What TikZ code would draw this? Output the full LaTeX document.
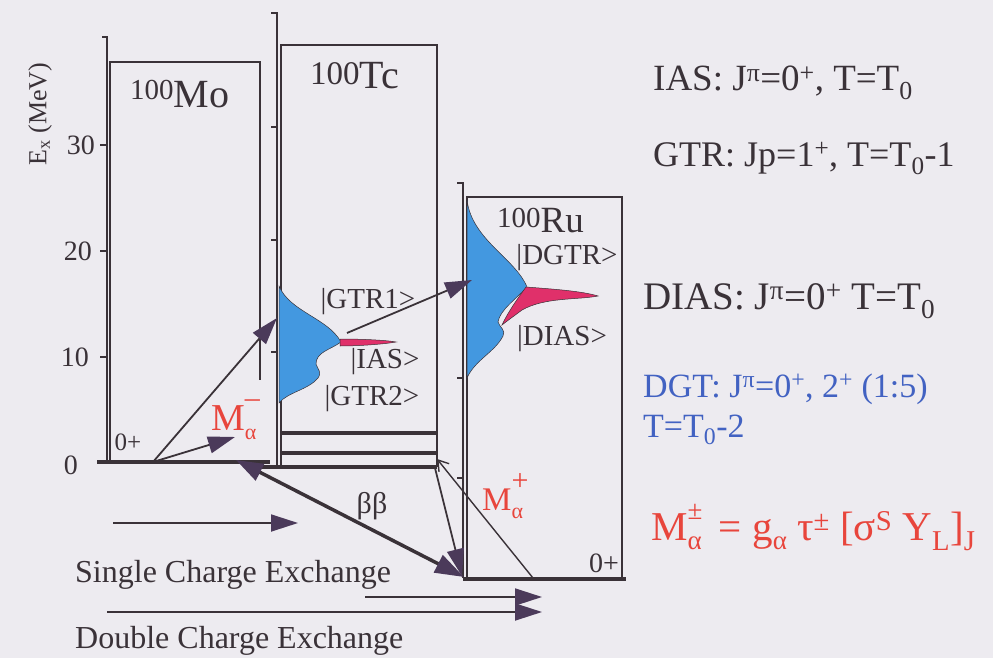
\documentclass[tikz,border=0pt]{standalone}
\usepackage{fontspec}
\setmainfont{Liberation Serif}
\usetikzlibrary{arrows.meta,positioning}
\definecolor{bgpaper}{HTML}{EDEBF0}
\definecolor{inkline}{HTML}{3A3238}
\definecolor{headpurple}{HTML}{4B3A5A}
\definecolor{gtrblue}{HTML}{4398E0}
\definecolor{iasred}{HTML}{E0306A}
\definecolor{mred}{HTML}{E8453C}
\definecolor{dgtblue}{HTML}{4262C2}
\newcommand{\fsz}[1]{\fontsize{#1}{#1}\selectfont}
\newcommand{\mlab}[1]{M\rlap{\raisebox{0.6em}{\fsz{30}#1}}\raisebox{-0.25em}{\fsz{22}α}}

\begin{document}
\begin{tikzpicture}[x=1pt,y=-1pt,
  axisline/.style={inkline,line width=1.3pt},
  boxline/.style={inkline,line width=1.1pt},
  level/.style={inkline,line width=3.5pt},
  peak/.style={draw=inkline,line width=0.5pt},
  arr/.style={inkline,line width=1.8pt,-{Triangle[length=27pt,width=17pt,color=headpurple]}},
  thinarr/.style={inkline,line width=1.4pt,-{Straight Barb[length=10pt,width=13pt]}},
  bbarr/.style={inkline,line width=3.5pt,{Triangle[length=27pt,width=18pt,color=headpurple]}-{Triangle[length=29pt,width=19pt,color=headpurple]}},
  txt/.style={font=\fsz{32},inner sep=0pt,text=inkline},
  state/.style={font=\fsz{29},inner sep=0pt,text=inkline},
  nucl/.style={inner sep=0pt,text=inkline},
  tick/.style={font=\fsz{28},inner sep=0pt,text=inkline,anchor=east}]

  % paper
  \fill[bgpaper] (0,0) rectangle (993,658);

  % 100Mo panel
  \draw[axisline] (102,37) -- (107,37) -- (107,462);
  \foreach \y in {145,251,357} \draw[axisline] (100,\y) -- (107,\y);
  \draw[boxline] (110,462) -- (110,62) -- (260,62) -- (260,380);
  \node[tick] (t30) at (95,145) {30};
  \node[tick] (t20) at (92,251) {20};
  \node[tick] (t10) at (89,357) {10};
  \node[tick] (t0) at (78,465) {0};
  \node[txt,font=\fsz{26},rotate=90] (exlab) at (40,114) {E\textsubscript{x} (MeV)};
  \node[nucl,anchor=base west] (mo) at (130,108)
    {\fsz{29}\raisebox{8pt}{100}\fsz{40}Mo};

  % 100Tc panel
  \draw[axisline] (271,13) -- (277,13) -- (277,467);
  \foreach \y in {127,240,352} \draw[axisline] (271,\y) -- (277,\y);
  \draw[boxline] (281,467) -- (281,45) -- (437,45) -- (437,467);
  \node[nucl,anchor=base west] (tc) at (310,89)
    {\fsz{33}\raisebox{4pt}{100}\fsz{40}Tc};

  % 100Ru panel
  \draw[axisline] (457,183) -- (463,183) -- (463,578);
  \foreach \y in {378,478} \draw[axisline] (457,\y) -- (463,\y);
  \draw[boxline] (467,578) -- (467,197) -- (622,197) -- (622,578);

  % strength distributions
  \filldraw[peak,fill=gtrblue] (279,286) .. controls (290,312) and (328,318) .. (341,342)
    .. controls (330,350) and (316,352) .. (316,364)
    .. controls (318,370) and (322,372) .. (318,378)
    .. controls (308,390) and (288,392) .. (279,403) -- cycle;
  \filldraw[peak,fill=iasred] (340,339) .. controls (360,339) and (385,340) .. (396,342)
    .. controls (385,344) and (360,346) .. (340,346) -- cycle;
  \filldraw[peak,fill=gtrblue] (467,200) .. controls (472,240) and (515,258) .. (527,287)
    .. controls (515,300) and (500,310) .. (498,322)
    .. controls (500,328) and (506,330) .. (503,336)
    .. controls (495,352) and (475,360) .. (467,378) -- cycle;
  \filldraw[peak,fill=iasred] (526,287) .. controls (552,289) and (582,291) .. (598,296)
    .. controls (578,300) and (545,297) .. (522,310)
    .. controls (514,316) and (507,321) .. (502,325)
    .. controls (508,312) and (518,298) .. (526,287) -- cycle;
  \node[nucl,anchor=base west] (ru) at (497,232)
    {\fsz{29}\raisebox{5pt}{100}\fsz{37}Ru};

  % levels
  \draw[level] (97,462) -- (270,462);
  \draw[level] (281,433) -- (437,433);
  \draw[level] (281,453) -- (437,453);
  \draw[level] (262,467) -- (437,467);
  \draw[level] (463,579) -- (626,579);
  \node[txt,font=\fsz{25}] (mo0p) at (128,442) {0+};
  \node[txt,font=\fsz{28}] (ru0p) at (604,563) {0+};

  % state labels
  \node[state] (gtr1) at (368,302) {|GTR1>};
  \node[state] (ias) at (385,362) {|IAS>};
  \node[state] (gtr2) at (372,399) {|GTR2>};
  \node[state] (dgtr) at (567,258) {|DGTR>};
  \node[state] (dias) at (562,339) {|DIAS>};

  % transitions
  \coordinate (mo0) at (153,462);
  \coordinate (tcgtr) at (277,318);
  \coordinate (msc) at (235,437);
  \coordinate (tcias) at (347,333);
  \coordinate (rudgt) at (472,280);
  \coordinate (moend) at (236,460);
  \coordinate (ru0) at (464,577);
  \coordinate (tclow) at (435,468);
  \coordinate (ru0b) at (462,576);
  \coordinate (ruright) at (533,578);
  \coordinate (tcend) at (437,459);
  \draw[arr] (mo0) -- (tcgtr);
  \draw[arr] (mo0) -- (msc);
  \draw[arr] (tcias) -- (rudgt);
  \draw[bbarr] (moend) -- (ru0);
  \draw[arr] (tclow) -- (ru0b);
  \draw[thinarr] (ruright) -- (tcend);
  \node[txt,font=\fsz{30}] (bb) at (372,506) {ββ};
  \node[txt,font=\fsz{38},text=mred,anchor=base west] (mminus) at (211,430) {\mlab{–}};
  \node[txt,font=\fsz{33},text=mred,anchor=base west] (mplus) at (482,510) {\mlab{+}};

  % exchange legend
  \coordinate (sceL) at (113,523);
  \coordinate (sceR) at (298,523);
  \coordinate (dceAL) at (365,597);
  \coordinate (dceAR) at (542,597);
  \coordinate (dceBL) at (107,612);
  \coordinate (dceBR) at (542,612);
  \draw[arr] (sceL) -- (sceR);
  \draw[arr] (dceAL) -- (dceAR);
  \draw[arr] (dceBL) -- (dceBR);
  \node[txt,anchor=base west] (sce) at (75,582) {Single Charge Exchange};
  \node[txt,anchor=base west] (dce) at (75,648) {Double Charge Exchange};

  % quantum numbers
  \node[txt,font=\fsz{37},anchor=base west] (iasdef) at (653,91)
    {IAS: J\textsuperscript{π}=0\textsuperscript{+}, T=T\textsubscript{0}};
  \node[txt,font=\fsz{36},anchor=base west] (gtrdef) at (653,166)
    {GTR: Jp=1\textsuperscript{+}, T=T\textsubscript{0}-1};
  \node[txt,font=\fsz{39},anchor=base west] (diasdef) at (643,309)
    {DIAS: J\textsuperscript{π}=0\textsuperscript{+} T=T\textsubscript{0}};
  \node[txt,font=\fsz{34},text=dgtblue,anchor=base west] (dgtdef) at (643,397)
    {DGT: J\textsuperscript{π}=0\textsuperscript{+}, 2\textsuperscript{+} (1:5)};
  \node[txt,font=\fsz{34},text=dgtblue,anchor=base west] (dgtt) at (643,437)
    {T=T\textsubscript{0}-2};
  \node[txt,font=\fsz{41},text=mred,anchor=base west] (mdef) at (651,540)
    {M\rlap{\raisebox{0.5em}{\fsz{27}±}}\raisebox{-0.22em}{\fsz{27}α}\, = g\raisebox{-0.22em}{\fsz{27}α} τ\textsuperscript{±} [σ\textsuperscript{S} Y\textsubscript{L}]\textsubscript{J}};
\end{tikzpicture}
\end{document}
